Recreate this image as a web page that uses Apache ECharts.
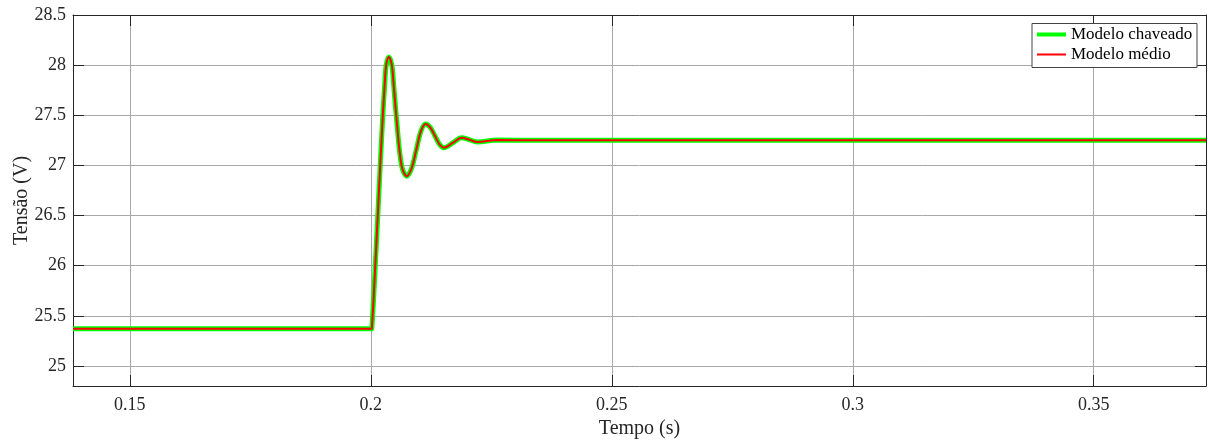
<!DOCTYPE html>
<html>
<head>
<meta charset="utf-8">
<script src="https://cdn.jsdelivr.net/npm/echarts@6/dist/echarts.min.js"></script>
<style>
  html, body { margin: 0; padding: 0; background: #fff; }
  #chart { width: 1208px; height: 443px; }
</style>
</head>
<body>
<div id="chart"></div>
<script>
// Output voltage step response: switched model vs. averaged model
const tempo = [0.1382, 0.2000, 0.20021, 0.20108, 0.20195, 0.20249, 0.2029, 0.20319,
  0.20373, 0.20436, 0.20471, 0.20527, 0.20637, 0.20747, 0.20844, 0.20942, 0.21037,
  0.21135, 0.21235, 0.2133, 0.21424, 0.21514, 0.21707, 0.21881, 0.22052, 0.22207,
  0.2262, 0.2350, 0.3000, 0.3733];
const chaveado = [25.37, 25.37, 25.375, 26.15, 27.00, 27.50, 27.82, 28.00,
  28.08, 28.00, 27.82, 27.50, 27.00, 26.893, 26.969, 27.153, 27.337,
  27.413, 27.378, 27.295, 27.211, 27.177, 27.227, 27.277, 27.255, 27.233,
  27.253, 27.25, 27.25, 27.25];
const medio = [25.37, 25.37, 25.375, 26.15, 27.00, 27.50, 27.82, 28.00,
  28.08, 28.00, 27.82, 27.50, 27.00, 26.893, 26.969, 27.153, 27.337,
  27.413, 27.378, 27.295, 27.211, 27.177, 27.227, 27.277, 27.255, 27.233,
  27.253, 27.25, 27.25, 27.25];

const xRange = [0.1382, 0.3733];
const yRange = [24.8, 28.5];
const nomes = ['Modelo chaveado', 'Modelo médio'];

const pairs = (xs, ys) => xs.map((x, i) => [x, ys[i]]);

const serif = 'Liberation Serif';
const axisColor = '#262626';
const gridColor = '#a8a8a8';

const chart = echarts.init(document.getElementById('chart'));

const baseAxis = {
  type: 'value',
  axisLine: { show: true, lineStyle: { color: axisColor, width: 1 } },
  axisTick: { show: true, inside: true, length: 11, lineStyle: { color: axisColor } },
  splitLine: { show: false },
  axisLabel: { show: false }
};

chart.setOption({
  animation: false,
  backgroundColor: '#ffffff',
  grid: { left: 73, top: 15, right: 2, bottom: 57, containLabel: false, outerBoundsMode: 'none' },
  xAxis: [
    Object.assign({}, baseAxis, {
      position: 'bottom',
      min: xRange[0], max: xRange[1], splitNumber: 5,
      splitLine: { show: true, lineStyle: { color: gridColor, width: 1 } },
      axisLabel: {
        show: true, showMinLabel: false, showMaxLabel: false,
        fontFamily: serif, fontSize: 18, color: axisColor, margin: 10
      },
      name: 'Tempo (s)', nameLocation: 'middle', nameGap: 33, nameMoveOverlap: false,
      nameTextStyle: { fontFamily: serif, fontSize: 20, color: axisColor }
    }),
    Object.assign({}, baseAxis, {
      position: 'top',
      min: xRange[0], max: xRange[1], splitNumber: 5
    })
  ],
  yAxis: [
    Object.assign({}, baseAxis, {
      position: 'left',
      min: yRange[0], max: yRange[1], splitNumber: 7,
      splitLine: { show: true, lineStyle: { color: gridColor, width: 1 } },
      axisLabel: {
        show: true, showMinLabel: false, showMaxLabel: true,
        fontFamily: serif, fontSize: 18, color: axisColor, margin: 7
      },
      name: 'Tensão (V)', nameLocation: 'middle', nameGap: 41, nameMoveOverlap: false,
      nameTextStyle: { fontFamily: serif, fontSize: 20, color: axisColor }
    }),
    Object.assign({}, baseAxis, {
      position: 'right',
      min: yRange[0], max: yRange[1], splitNumber: 7
    })
  ],
  legend: [
    {
      data: [nomes[0]], left: 1037, top: 26, padding: 0,
      icon: 'rect', itemWidth: 29, itemHeight: 4, z: 10,
      textStyle: { fontFamily: serif, fontSize: 17, color: '#000' }
    },
    {
      data: [nomes[1]], left: 1037, top: 46, padding: 0,
      icon: 'rect', itemWidth: 29, itemHeight: 2, z: 10,
      textStyle: { fontFamily: serif, fontSize: 17, color: '#000' }
    }
  ],
  graphic: [{
    type: 'rect', z: 5,
    shape: { x: 1032, y: 23.5, width: 165, height: 44 },
    style: { fill: '#ffffff', stroke: '#444444', lineWidth: 1 }
  }],
  series: [
    {
      name: nomes[0], type: 'line', data: pairs(tempo, chaveado),
      xAxisIndex: 0, yAxisIndex: 0,
      showSymbol: false, smooth: 0.35, clip: true,
      lineStyle: { color: '#00ff00', width: 5 },
      itemStyle: { color: '#00ff00' }, z: 3
    },
    {
      name: nomes[1], type: 'line', data: pairs(tempo, medio),
      xAxisIndex: 0, yAxisIndex: 0,
      showSymbol: false, smooth: 0.35, clip: true,
      lineStyle: { color: '#ff0000', width: 2 },
      itemStyle: { color: '#ff0000' }, z: 4
    }
  ]
});
</script>
</body>
</html>
